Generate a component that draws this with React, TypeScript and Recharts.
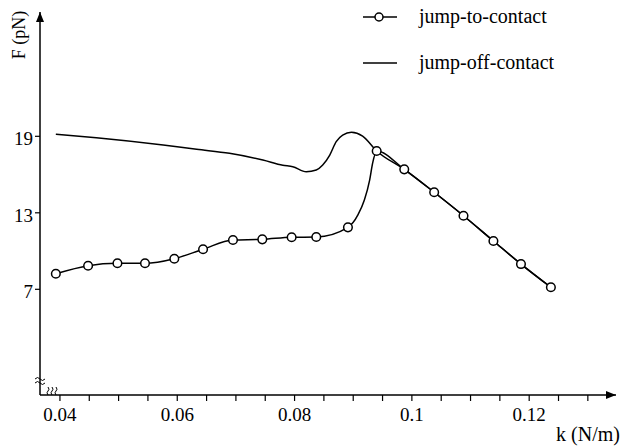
import React from 'react';
import { LineChart, Line, XAxis, YAxis, Legend } from 'recharts';

// jump-to-contact measured points (with circle markers)
const toContactK = [0.0393, 0.0448, 0.0498, 0.0545, 0.0595, 0.0644, 0.0695, 0.0745, 0.0795, 0.0837, 0.0891, 0.094, 0.0987, 0.1038, 0.1088, 0.1139, 0.1186, 0.1237];
const toContactF = [8.22, 8.85, 9.04, 9.04, 9.4, 10.14, 10.87, 10.92, 11.08, 11.1, 11.86, 17.85, 16.41, 14.61, 12.77, 10.79, 8.98, 7.16];
// points read along the steep rise of the jump-to-contact curve (no marker)
const riseK = [0.0908, 0.0919, 0.0928, 0.0933];
const riseF = [12.83, 14.0, 15.57, 16.88];
// jump-off-contact curve
const offK = [0.0393, 0.0462, 0.0576, 0.0633, 0.0689, 0.0746, 0.078, 0.0797, 0.082, 0.0837, 0.0848, 0.086, 0.0871, 0.0882, 0.0897, 0.0916, 0.094, 0.0987, 0.1038, 0.1088, 0.1139, 0.1186, 0.1237];
const offF = [19.16, 18.89, 18.32, 17.98, 17.67, 17.14, 16.73, 16.62, 16.22, 16.36, 16.75, 17.53, 18.58, 19.1, 19.31, 19.02, 17.85, 16.41, 14.61, 12.77, 10.79, 8.98, 7.16];

const xTicks = [0.04, 0.045, 0.05, 0.055, 0.06, 0.065, 0.07, 0.075, 0.08, 0.085, 0.09, 0.095, 0.1, 0.105, 0.11, 0.115, 0.12, 0.125, 0.13];
const xLabelTicks = [0.04, 0.06, 0.08, 0.1, 0.12];
const xLabelTexts = ['0.04', '0.06', '0.08', '0.1', '0.12'];
const yTicks = [7, 13, 19];
const seriesNames = ['jump-to-contact', 'jump-off-contact'];

const toContactData = [
  ...toContactK.map((k, i) => ({ k, f: toContactF[i], marker: true })),
  ...riseK.map((k, i) => ({ k, f: riseF[i], marker: false })),
].sort((a, b) => a.k - b.k);
const offData = offK.map((k, i) => ({ k, f: offF[i] }));

const FONT = '"Liberation Serif", "Times New Roman", serif';

const xFmt = (v: number) => {
  const i = xLabelTicks.findIndex((t) => Math.abs(t - v) < 1e-9);
  return i >= 0 ? xLabelTexts[i] : '';
};

const MarkerDot = (props: any) => {
  const { cx, cy, payload, index } = props;
  if (!payload || !payload.marker) return <g key={`d-${index}`} />;
  return <circle key={`d-${index}`} cx={cx} cy={cy} r={4.3} fill="#fff" stroke="#000" strokeWidth={1.5} />;
};

const renderLegend = () => (
  <div style={{ position: 'relative', width: 260, height: 80, fontFamily: FONT, fontSize: 20, color: '#000' }}>
    <svg width={40} height={80} style={{ position: 'absolute', left: 0, top: 0 }}>
      <line x1={3} y1={17} x2={37} y2={17} stroke="#000" strokeWidth={1.5} />
      <circle cx={19} cy={17} r={4} fill="#fff" stroke="#000" strokeWidth={1.5} />
      <line x1={3} y1={63} x2={37} y2={63} stroke="#000" strokeWidth={1.5} />
    </svg>
    <div style={{ position: 'absolute', left: 59, top: 4, lineHeight: '24px', whiteSpace: 'nowrap' }}>{seriesNames[0]}</div>
    <div style={{ position: 'absolute', left: 59, top: 50, lineHeight: '24px', whiteSpace: 'nowrap' }}>{seriesNames[1]}</div>
  </div>
);

export default function App() {
  return (
    <div style={{ position: 'absolute', left: 0, top: 0, width: 626, height: 448, background: '#fff' }}>
      <LineChart width={626} height={448} margin={{ top: 12, right: 10, bottom: 3, left: 0 }}>
        <defs>
          <marker id="arrowHead" viewBox="0 0 10 8" refX="10" refY="4" markerWidth="10" markerHeight="8" markerUnits="userSpaceOnUse" orient="auto-start-reverse">
            <path d="M0,0 L10,4 L0,8 z" fill="#000" />
          </marker>
        </defs>
        <XAxis
          type="number"
          dataKey="k"
          domain={[0.0366, 0.1348]}
          ticks={xTicks}
          interval={0}
          allowDataOverflow
          height={50}
          tickSize={6}
          tickMargin={7}
          tickFormatter={xFmt}
          tick={{ fontFamily: FONT, fontSize: 19, fill: '#000' }}
          tickLine={{ stroke: '#000', strokeWidth: 1.2 }}
          axisLine={{ stroke: '#000', strokeWidth: 1.5, markerEnd: 'url(#arrowHead)' }}
          label={{
            content: (p: any) => {
              const vb = p.viewBox || {};
              return (
                <text x={vb.x + vb.width + 4} y={vb.y + 46} textAnchor="end" fontFamily={FONT} fontSize={20} fill="#000">
                  k (N/m)
                </text>
              );
            },
          }}
        />
        <YAxis
          type="number"
          dataKey="f"
          domain={[-1.29, 28.75]}
          ticks={yTicks}
          interval={0}
          allowDataOverflow
          width={40}
          tickSize={5}
          tickMargin={2}
          tick={{ fontFamily: FONT, fontSize: 19, fill: '#000', dy: 2 }}
          tickLine={{ stroke: '#000', strokeWidth: 1.2 }}
          axisLine={{ stroke: '#000', strokeWidth: 1.5, markerStart: 'url(#arrowHead)' }}
          label={{
            content: () => (
              <text x={25} y={35} transform="rotate(-90, 25, 35)" textAnchor="middle" fontFamily={FONT} fontSize={18} fill="#000">
                F (pN)
              </text>
            ),
          }}
        />
        <Legend layout="vertical" align="center" verticalAlign="middle" content={renderLegend} wrapperStyle={{ position: 'absolute', top: 0, left: 360, width: 260, height: 80 }} />
        <Line
          name={seriesNames[1]}
          data={offData}
          dataKey="f"
          type="monotone"
          stroke="#000"
          strokeWidth={1.5}
          dot={false}
          activeDot={false}
          isAnimationActive={false}
        />
        <Line
          name={seriesNames[0]}
          data={toContactData}
          dataKey="f"
          type="monotone"
          stroke="#000"
          strokeWidth={1.5}
          dot={MarkerDot}
          activeDot={false}
          isAnimationActive={false}
        />
        <g stroke="#000" strokeWidth={1} fill="none">
          <path d="M35,379 q2.5,-3 5,0 t5,0" />
          <path d="M35,383 q2.5,-3 5,0 t5,0" />
          <path d="M48,395 q-2,-2.5 0,-4 t0,-4" />
          <path d="M52,395 q-2,-2.5 0,-4 t0,-4" />
          <path d="M56,395 q-2,-2.5 0,-4 t0,-4" />
        </g>
      </LineChart>
    </div>
  );
}
